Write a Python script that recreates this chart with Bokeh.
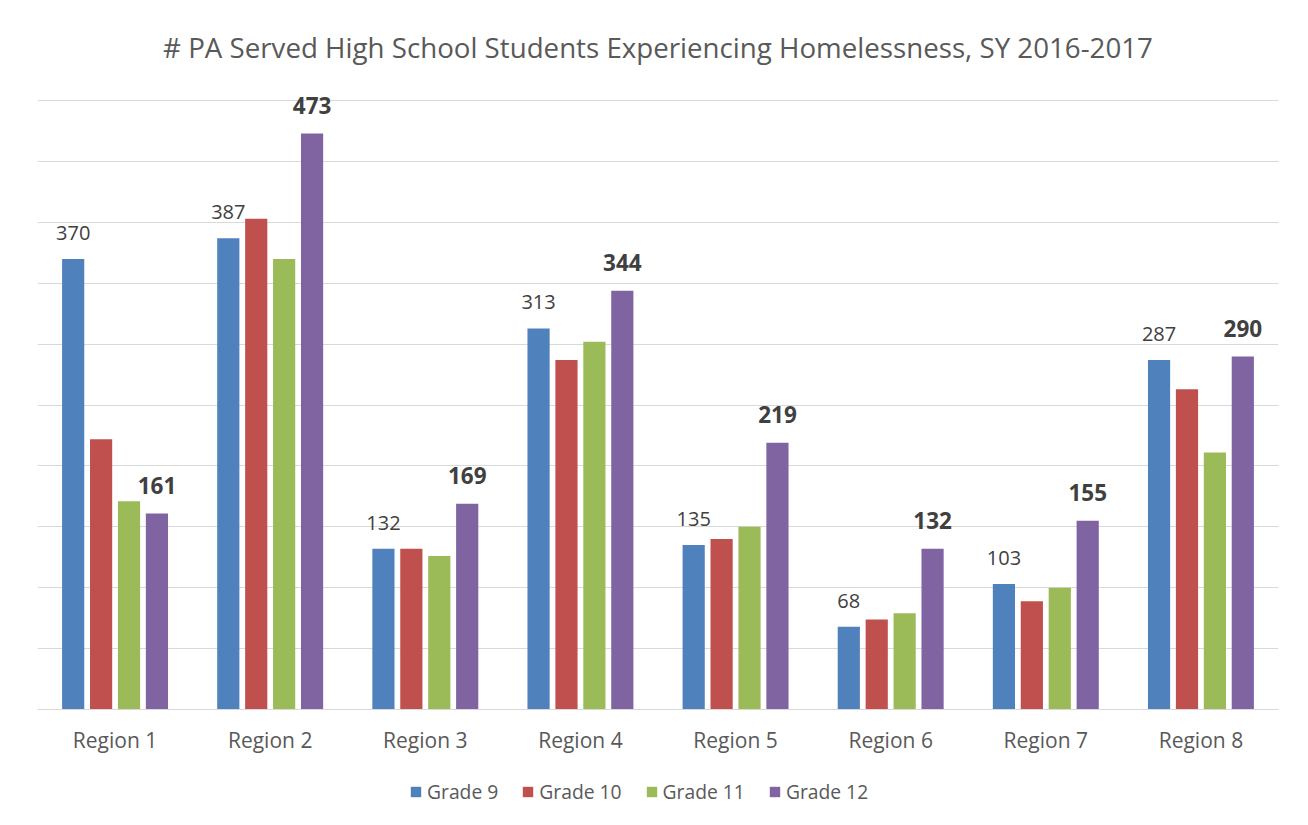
from bokeh.plotting import figure
from bokeh.layouts import column
from bokeh.models import (ColumnDataSource, FactorRange, Range1d, FixedTicker, Legend,
                          LegendItem, Label)
from bokeh.transform import dodge
from bokeh.core.properties import value
from bokeh.embed import file_html
from bokeh.resources import INLINE

title_text = "# PA Served High School Students Experiencing Homelessness, SY 2016-2017"
regions = ["Region 1", "Region 2", "Region 3", "Region 4",
           "Region 5", "Region 6", "Region 7", "Region 8"]
grades = ["Grade 9", "Grade 10", "Grade 11", "Grade 12"]
grade9 = [370, 387, 132, 313, 135, 68, 103, 287]
grade10 = [222, 403, 132, 287, 140, 74, 89, 263]
grade11 = [171, 370, 126, 302, 150, 79, 100, 211]
grade12 = [161, 473, 169, 344, 219, 132, 155, 290]
colors = ["#4F81BD", "#C0504D", "#9BBB59", "#8064A2"]
y_grid_ticks = [0, 50, 100, 150, 200, 250, 300, 350, 400, 450, 500]

FONT = "Open Sans"
FRAME_W = 1241
LEFT, RIGHT = 37, 21
TITLE_H = 79
PLOT_H = 630          # frame height of the bar chart (includes headroom above the 500 line)
Y_MAX = 517.4         # keeps 500 at the same pixel as before (609 px per 500)

# ---- title strip ----
pt = figure(frame_width=FRAME_W, frame_height=TITLE_H,
            x_range=Range1d(0, 1), y_range=Range1d(0, TITLE_H),
            x_axis_location=None, y_axis_location=None, output_backend="svg",
            toolbar_location=None, min_border_left=LEFT, min_border_right=RIGHT,
            min_border_top=0, min_border_bottom=0)
pt.outline_line_color = None
pt.grid.visible = False
pt.add_layout(Label(x=0.5, y=TITLE_H - 46, text=title_text, text_align="center",
                    text_baseline="alphabetic", text_font=FONT, text_font_size="27.7px",
                    text_color="#595959"))

# ---- main chart ----
p = figure(x_range=FactorRange(*regions), y_range=Range1d(0, Y_MAX),
           frame_width=FRAME_W, frame_height=PLOT_H, output_backend="svg", toolbar_location=None,
           min_border_left=LEFT, min_border_right=RIGHT, min_border_top=0,
           min_border_bottom=51)
p.outline_line_color = None
p.background_fill_color = "white"
p.border_fill_color = "white"

p.yaxis.visible = False
p.xgrid.visible = False
p.ygrid.ticker = FixedTicker(ticks=y_grid_ticks)
p.ygrid.grid_line_color = "#d9d9d9"
p.ygrid.grid_line_width = 1

p.xaxis.axis_line_color = "#d9d9d9"
p.xaxis.axis_line_width = 1
p.xaxis.major_tick_line_color = None
p.xaxis.minor_tick_line_color = None
p.xaxis.major_label_text_font = FONT
p.xaxis.major_label_text_font_size = "21px"
p.xaxis.major_label_text_color = "#595959"
p.xaxis.major_label_standoff = 10

offsets = [-0.27, -0.09, 0.09, 0.27]
series = [grade9, grade10, grade11, grade12]
for g, vals, col, off in zip(grades, series, colors, offsets):
    src = ColumnDataSource(dict(region=regions, value=vals, label=[str(v) for v in vals]))
    p.vbar(x=dodge("region", off, range=p.x_range), top="value", width=0.143,
           source=src, fill_color=col, line_color=None)
    if g == "Grade 9":
        p.text(x=dodge("region", off, range=p.x_range), y="value", text="label", source=src,
               text_align="center", text_baseline="alphabetic", y_offset=-26,
               text_font=value(FONT), text_font_size="20px", text_color="#404040")
    elif g == "Grade 12":
        p.text(x=dodge("region", off, range=p.x_range), y="value", text="label", source=src,
               text_align="center", text_baseline="alphabetic", y_offset=-28,
               text_font=value(FONT), text_font_size="22.5px", text_font_style="bold",
               text_color="#404040")

# ---- legend strip ----
pl = figure(frame_width=FRAME_W, frame_height=65, x_range=Range1d(0, 1), y_range=Range1d(0, 1),
            x_axis_location=None, y_axis_location=None, output_backend="svg",
            toolbar_location=None, min_border_left=LEFT, min_border_right=RIGHT,
            min_border_top=0, min_border_bottom=0)
pl.outline_line_color = None
pl.grid.visible = False
items = []
for g, col in zip(grades, colors):
    # swatch-only renderer: a zero-height bar, so nothing shows in the strip itself
    r = pl.vbar(x=[0.5], top=[0], bottom=[0], width=0.01, fill_color=col, line_color=None)
    items.append(LegendItem(label=g, renderers=[r]))
legend = Legend(items=items, orientation="horizontal", location=(372, 20),
                glyph_width=13, glyph_height=13, label_standoff=5, spacing=23,
                label_text_font=FONT, label_text_font_size="19.3px", label_text_color="#595959",
                border_line_color=None, background_fill_alpha=0, padding=0, margin=0)
pl.add_layout(legend, "center")

layout = column(pt, p, pl, spacing=0)
open("out.html", "w").write(file_html(layout, INLINE))
